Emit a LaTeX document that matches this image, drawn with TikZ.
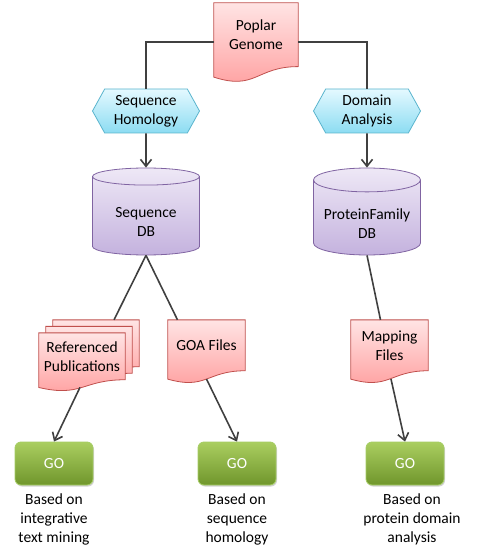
\documentclass[tikz,border=0pt]{standalone}
\usepackage{fontspec}
\setmainfont{Carlito}
\usetikzlibrary{calc,shapes.geometric,shapes.symbols,shadows,arrows.meta,backgrounds}

\definecolor{docborder}{RGB}{192,80,77}
\definecolor{doctop}{RGB}{255,228,228}
\definecolor{docbottom}{RGB}{255,158,158}
\definecolor{hexborder}{RGB}{90,180,205}
\definecolor{hextop}{RGB}{228,249,255}
\definecolor{hexbottom}{RGB}{140,220,242}
\definecolor{dbborder}{RGB}{128,100,162}
\definecolor{dbtop}{RGB}{238,232,246}
\definecolor{dbbottom}{RGB}{196,178,222}
\definecolor{goborder}{RGB}{165,205,100}
\definecolor{gotop}{RGB}{170,206,96}
\definecolor{gobottom}{RGB}{112,150,44}
\definecolor{linkcol}{RGB}{64,64,64}

% wavy document page behind a node
\newcommand\docpage[1]{\shade[docfill] (#1.north west) -- (#1.north east) -- (#1.south east)
  .. controls (#1.south) and ($(#1.south)!0.38!180:(#1.north)$)
  .. ($(#1.south west)!0.165!180:(#1.north west)$) -- cycle;}
% pushes the first text line of a cylinder down a little
\newcommand\dbstrut{\rule{0pt}{21pt}}

\tikzset{
  every node/.style={font=\fontsize{15.5}{19}\selectfont, align=center, inner sep=1pt},
  docnode/.style={rectangle},
  docfill/.style={draw=docborder, line width=0.8pt, top color=doctop, bottom color=docbottom},
  hexnode/.style={signal, signal to=west and east, signal pointer angle=122,
    draw=hexborder, line width=0.8pt, top color=hextop, bottom color=hexbottom,
    minimum width=107pt, minimum height=44pt},
  dbnode/.style={cylinder, shape border rotate=90, aspect=0.27, anchor=shape center,
    draw=dbborder, line width=0.8pt, top color=dbtop, bottom color=dbbottom,
    minimum width=107pt, minimum height=87pt},
  gonode/.style={rectangle, rounded corners=6pt, draw=goborder, line width=0.8pt,
    top color=gotop, bottom color=gobottom, text=white,
    minimum width=78pt, minimum height=43pt,
    drop shadow={shadow xshift=1pt, shadow yshift=-1.5pt, opacity=0.35}},
  link/.style={draw=linkcol, line width=1.6pt},
  arrow/.style={link, -{Straight Barb[length=7pt,width=11pt]}}
}

\begin{document}
\begin{tikzpicture}[x=1pt,y=-1pt]
\useasboundingbox (0,0) rectangle (477,556);

\node[docnode, minimum width=84pt, minimum height=63.4pt] (pop) at (256,34.7) {Poplar\\Genome};
\node[hexnode] (seqh) at (146,111) {Sequence\\Homology};
\node[hexnode] (doma) at (367,111) {Domain\\Analysis};
\node[dbnode] (seqdb) at (146,211.5) {\dbstrut Sequence\\DB};
\node[dbnode] (pfdb) at (367,211.5) {\dbstrut ProteinFamily\\DB};

\node[docnode, minimum width=86pt, minimum height=46.5pt] (pubA) at (96,343.3) {};
\node[docnode, minimum width=86pt, minimum height=46.5pt] (pubB) at (89,349.8) {};
\node[docnode, minimum width=86pt, minimum height=46.5pt] (pub) at (82,356.3) {Referenced\\Publications};
\node[docnode, minimum width=77pt, minimum height=50.5pt] (goa) at (206.5,345.3) {GOA Files};
\node[docnode, minimum width=77pt, minimum height=50.5pt] (map) at (389.5,345.3) {Mapping\\Files};

\node[gonode] (go1) at (54,463.5) {GO};
\node[gonode] (go2) at (237,463.5) {GO};
\node[gonode] (go3) at (405,463.5) {GO};

\node (cap1) at (54,519) {Based on\\integrative\\text mining};
\node (cap2) at (237,519) {Based on\\sequence\\homology};
\node (cap3) at (412,519) {Based on\\protein domain\\analysis};

\begin{pgfonlayer}{background}
\docpage{pop}
\docpage{pubA}
\docpage{pubB}
\docpage{pub}
\docpage{goa}
\docpage{map}
\end{pgfonlayer}

\draw[link] ([yshift=-7.5pt]pop.west) -| (seqh.north);
\draw[link] ([yshift=-7.5pt]pop.east) -| (doma.north);
\draw[arrow] (seqh) -- (seqdb);
\draw[arrow] (doma) -- (pfdb);
\draw[link] (seqdb.south) -- ([xshift=18pt]pubA.north);
\draw[link] (seqdb.south) -- ([xshift=-29pt]goa.north);
\draw[link] (pfdb.south) -- ([xshift=-9pt]map.north);
\draw[arrow] ([xshift=-2pt,yshift=-7.6pt]pub.south) -- (go1.north);
\draw[arrow] ([yshift=-8.3pt]goa.south) -- (go2.north);
\draw[arrow] ([xshift=1.5pt,yshift=-8.3pt]map.south) -- (go3.north);
\end{tikzpicture}
\end{document}
